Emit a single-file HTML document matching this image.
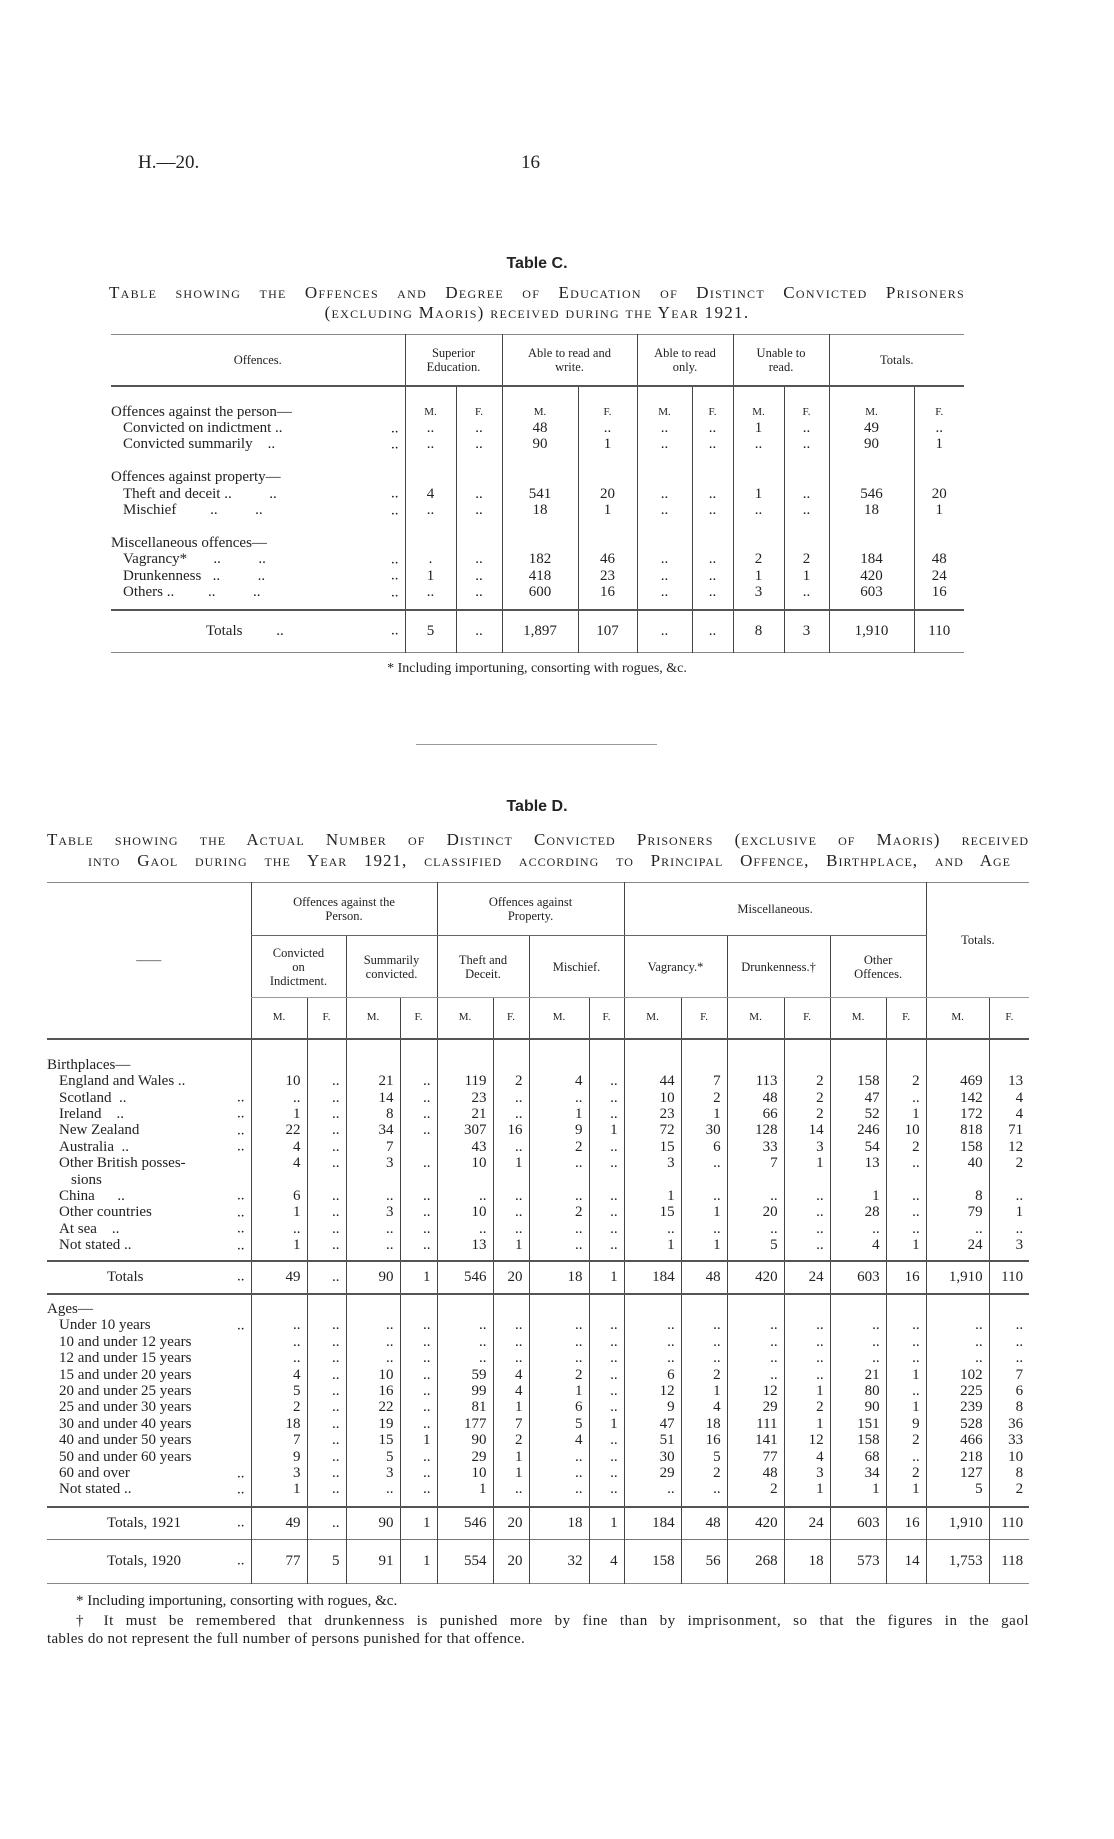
<!DOCTYPE html>
<html><head><meta charset="utf-8"><style>
body{margin:0;background:#fff;}
#pg{position:relative;width:1114px;height:1839px;background:#fff;color:#222;font-family:"Liberation Serif",serif;overflow:hidden}
.a{position:absolute;white-space:nowrap}
table{position:absolute;border-collapse:collapse;table-layout:fixed}
td{padding:0;vertical-align:middle;white-space:nowrap;overflow:visible;line-height:13px}
.c td{border-left:1px solid #444;text-align:center;font-size:15px}
.c td.l{border-left:none;text-align:left;position:relative}
.d td{border-left:1px solid #444;text-align:right;padding-right:6px;font-size:15px}
.d td.l{border-left:none;text-align:left;padding-right:0;position:relative}
.hd td{font-size:12.5px;line-height:14px;text-align:center;padding-right:0}
.mf td{font-size:11px;text-align:center;padding-right:0}
.dt{position:absolute;right:6px;top:50%;transform:translateY(-50%)}
.ind{padding-left:12px}
.sc{font-variant:small-caps}
</style></head><body><div id="pg">

<div class="a" style="left:138px;top:152px;font-size:19px">H.—20.</div>
<div class="a" style="left:521px;top:152px;font-size:19px">16</div>

<div class="a" style="left:0;width:1074px;text-align:center;top:255px;font-size:16px;font-weight:bold;font-family:'Liberation Sans',sans-serif">Table C.</div>
<div class="a sc" style="left:109px;width:856px;top:283px;font-size:17px;text-align:justify;text-align-last:justify;letter-spacing:1.3px">Table showing the Offences and Degree of Education of Distinct Convicted Prisoners</div>
<div class="a sc" style="left:0;width:1074px;top:303px;font-size:17px;text-align:center;letter-spacing:1.3px">(excluding Maoris) received during the Year 1921.</div>

<table class="c" style="left:111px;top:334px;width:853px;border-top:1px solid #888;border-bottom:1px solid #888">
<colgroup><col style="width:294px"><col style="width:51px"><col style="width:46px"><col style="width:76px"><col style="width:59px"><col style="width:55px"><col style="width:41px"><col style="width:51px"><col style="width:45px"><col style="width:85px"><col style="width:50px"></colgroup>
<tr class="hd" style="height:51px;border-bottom:2px solid #555"><td class="l" style="text-align:center">Offences.</td><td colspan="2">Superior<br>Education.</td><td colspan="2">Able to read and<br>write.</td><td colspan="2">Able to read<br>only.</td><td colspan="2">Unable to<br>read.</td><td colspan="2">Totals.</td></tr>
<tr style="height:19px"><td class="l"></td><td></td><td></td><td></td><td></td><td></td><td></td><td></td><td></td><td></td><td></td></tr>
<tr style="height:16px"><td class="l">Offences against the person—</td><td style="font-size:11px">M.</td><td style="font-size:11px">F.</td><td style="font-size:11px">M.</td><td style="font-size:11px">F.</td><td style="font-size:11px">M.</td><td style="font-size:11px">F.</td><td style="font-size:11px">M.</td><td style="font-size:11px">F.</td><td style="font-size:11px">M.</td><td style="font-size:11px">F.</td></tr>
<tr style="height:16px"><td class="l"><span class="ind">Convicted on indictment ..</span><span class="dt">..</span></td><td>..</td><td>..</td><td>48</td><td>..</td><td>..</td><td>..</td><td>1</td><td>..</td><td>49</td><td>..</td></tr>
<tr style="height:16px"><td class="l"><span class="ind">Convicted summarily &nbsp;&nbsp;&nbsp;..</span><span class="dt">..</span></td><td>..</td><td>..</td><td>90</td><td>1</td><td>..</td><td>..</td><td>..</td><td>..</td><td>90</td><td>1</td></tr>
<tr style="height:17px"><td class="l"></td><td></td><td></td><td></td><td></td><td></td><td></td><td></td><td></td><td></td><td></td></tr>
<tr style="height:16px"><td class="l">Offences against property—</td><td></td><td></td><td></td><td></td><td></td><td></td><td></td><td></td><td></td><td></td></tr>
<tr style="height:17px"><td class="l"><span class="ind">Theft and deceit .. &nbsp;&nbsp;&nbsp;&nbsp;&nbsp;&nbsp;&nbsp;&nbsp;&nbsp;..</span><span class="dt">..</span></td><td>4</td><td>..</td><td>541</td><td>20</td><td>..</td><td>..</td><td>1</td><td>..</td><td>546</td><td>20</td></tr>
<tr style="height:16px"><td class="l"><span class="ind">Mischief &nbsp;&nbsp;&nbsp;&nbsp;&nbsp;&nbsp;&nbsp;&nbsp;.. &nbsp;&nbsp;&nbsp;&nbsp;&nbsp;&nbsp;&nbsp;&nbsp;&nbsp;..</span><span class="dt">..</span></td><td>..</td><td>..</td><td>18</td><td>1</td><td>..</td><td>..</td><td>..</td><td>..</td><td>18</td><td>1</td></tr>
<tr style="height:17px"><td class="l"></td><td></td><td></td><td></td><td></td><td></td><td></td><td></td><td></td><td></td><td></td></tr>
<tr style="height:16px"><td class="l">Miscellaneous offences—</td><td></td><td></td><td></td><td></td><td></td><td></td><td></td><td></td><td></td><td></td></tr>
<tr style="height:16px"><td class="l"><span class="ind">Vagrancy* &nbsp;&nbsp;&nbsp;&nbsp;&nbsp;&nbsp;.. &nbsp;&nbsp;&nbsp;&nbsp;&nbsp;&nbsp;&nbsp;&nbsp;&nbsp;..</span><span class="dt">..</span></td><td>.</td><td>..</td><td>182</td><td>46</td><td>..</td><td>..</td><td>2</td><td>2</td><td>184</td><td>48</td></tr>
<tr style="height:17px"><td class="l"><span class="ind">Drunkenness &nbsp;&nbsp;.. &nbsp;&nbsp;&nbsp;&nbsp;&nbsp;&nbsp;&nbsp;&nbsp;&nbsp;..</span><span class="dt">..</span></td><td>1</td><td>..</td><td>418</td><td>23</td><td>..</td><td>..</td><td>1</td><td>1</td><td>420</td><td>24</td></tr>
<tr style="height:16px"><td class="l"><span class="ind">Others .. &nbsp;&nbsp;&nbsp;&nbsp;&nbsp;&nbsp;&nbsp;&nbsp;.. &nbsp;&nbsp;&nbsp;&nbsp;&nbsp;&nbsp;&nbsp;&nbsp;&nbsp;..</span><span class="dt">..</span></td><td>..</td><td>..</td><td>600</td><td>16</td><td>..</td><td>..</td><td>3</td><td>..</td><td>603</td><td>16</td></tr>
<tr style="height:9px"><td class="l"></td><td></td><td></td><td></td><td></td><td></td><td></td><td></td><td></td><td></td><td></td></tr>
<tr style="height:43px;border-top:2px solid #555"><td class="l"><span style="padding-left:95px">Totals &nbsp;&nbsp;&nbsp;&nbsp;&nbsp;&nbsp;&nbsp;&nbsp;..</span><span class="dt">..</span></td><td>5</td><td>..</td><td>1,897</td><td>107</td><td>..</td><td>..</td><td>8</td><td>3</td><td>1,910</td><td>110</td></tr>
</table>
<div class="a" style="left:0;width:1074px;text-align:center;top:661px;font-size:14px">* Including importuning, consorting with rogues, &amp;c.</div>
<div class="a" style="left:416px;top:744px;width:241px;border-top:1px solid #999"></div>

<div class="a" style="left:0;width:1074px;text-align:center;top:798px;font-size:16px;font-weight:bold;font-family:'Liberation Sans',sans-serif">Table D.</div>
<div class="a sc" style="left:47px;width:982px;top:830px;font-size:17px;text-align:justify;text-align-last:justify;letter-spacing:1px">Table showing the Actual Number of Distinct Convicted Prisoners (exclusive of Maoris) received</div>
<div class="a sc" style="left:88px;width:923px;top:851px;font-size:17px;text-align:justify;text-align-last:justify;letter-spacing:1px">into Gaol during the Year 1921, classified according to Principal Offence, Birthplace, and Age</div>

<table class="d" style="left:47px;top:882px;width:982px;border-top:1px solid #888;border-bottom:1px solid #888">
<colgroup><col style="width:204px"><col style="width:56px"><col style="width:39px"><col style="width:54px"><col style="width:37px"><col style="width:56px"><col style="width:36px"><col style="width:60px"><col style="width:35px"><col style="width:57px"><col style="width:46px"><col style="width:57px"><col style="width:46px"><col style="width:56px"><col style="width:40px"><col style="width:63px"><col style="width:40px"></colgroup>
<tr class="hd" style="height:53px"><td class="l" rowspan="3" style="text-align:center">——</td><td colspan="4" style="border-bottom:1px solid #666">Offences against the<br>Person.</td><td colspan="4" style="border-bottom:1px solid #666">Offences against<br>Property.</td><td colspan="6" style="border-bottom:1px solid #666">Miscellaneous.</td><td colspan="2" rowspan="2" style="border-bottom:1px solid #999">Totals.</td></tr>
<tr class="hd" style="height:62px"><td colspan="2" style="border-bottom:1px solid #999">Convicted<br>on<br>Indictment.</td><td colspan="2" style="border-bottom:1px solid #999">Summarily<br>convicted.</td><td colspan="2" style="border-bottom:1px solid #999">Theft and<br>Deceit.</td><td colspan="2" style="border-bottom:1px solid #999">Mischief.</td><td colspan="2" style="border-bottom:1px solid #999">Vagrancy.*</td><td colspan="2" style="border-bottom:1px solid #999">Drunkenness.†</td><td colspan="2" style="border-bottom:1px solid #999">Other<br>Offences.</td></tr>
<tr class="mf" style="height:41px;border-bottom:2px solid #555"><td>M.</td><td>F.</td><td>M.</td><td>F.</td><td>M.</td><td>F.</td><td>M.</td><td>F.</td><td>M.</td><td>F.</td><td>M.</td><td>F.</td><td>M.</td><td>F.</td><td>M.</td><td>F.</td></tr>
<tr style="height:19px"><td class="l"></td><td></td><td></td><td></td><td></td><td></td><td></td><td></td><td></td><td></td><td></td><td></td><td></td><td></td><td></td><td></td><td></td></tr>
<tr style="height:16px"><td class="l">Birthplaces—</td><td></td><td></td><td></td><td></td><td></td><td></td><td></td><td></td><td></td><td></td><td></td><td></td><td></td><td></td><td></td><td></td></tr>
<tr style="height:16.4px"><td class="l"><span class="ind">England and Wales ..</span></td><td>10</td><td>..</td><td>21</td><td>..</td><td>119</td><td>2</td><td>4</td><td>..</td><td>44</td><td>7</td><td>113</td><td>2</td><td>158</td><td>2</td><td>469</td><td>13</td></tr>
<tr style="height:16.4px"><td class="l"><span class="ind">Scotland &nbsp;..</span><span class="dt">..</span></td><td>..</td><td>..</td><td>14</td><td>..</td><td>23</td><td>..</td><td>..</td><td>..</td><td>10</td><td>2</td><td>48</td><td>2</td><td>47</td><td>..</td><td>142</td><td>4</td></tr>
<tr style="height:16.4px"><td class="l"><span class="ind">Ireland &nbsp;&nbsp;&nbsp;..</span><span class="dt">..</span></td><td>1</td><td>..</td><td>8</td><td>..</td><td>21</td><td>..</td><td>1</td><td>..</td><td>23</td><td>1</td><td>66</td><td>2</td><td>52</td><td>1</td><td>172</td><td>4</td></tr>
<tr style="height:16.4px"><td class="l"><span class="ind">New Zealand</span><span class="dt">..</span></td><td>22</td><td>..</td><td>34</td><td>..</td><td>307</td><td>16</td><td>9</td><td>1</td><td>72</td><td>30</td><td>128</td><td>14</td><td>246</td><td>10</td><td>818</td><td>71</td></tr>
<tr style="height:16.4px"><td class="l"><span class="ind">Australia &nbsp;..</span><span class="dt">..</span></td><td>4</td><td>..</td><td>7</td><td></td><td>43</td><td>..</td><td>2</td><td>..</td><td>15</td><td>6</td><td>33</td><td>3</td><td>54</td><td>2</td><td>158</td><td>12</td></tr>
<tr style="height:16.4px"><td class="l"><span class="ind">Other British posses-</span></td><td>4</td><td>..</td><td>3</td><td>..</td><td>10</td><td>1</td><td>..</td><td>..</td><td>3</td><td>..</td><td>7</td><td>1</td><td>13</td><td>..</td><td>40</td><td>2</td></tr>
<tr style="height:16.4px"><td class="l"><span style="padding-left:24px">sions</span></td><td></td><td></td><td></td><td></td><td></td><td></td><td></td><td></td><td></td><td></td><td></td><td></td><td></td><td></td><td></td><td></td></tr>
<tr style="height:16.4px"><td class="l"><span class="ind">China &nbsp;&nbsp;&nbsp;&nbsp;&nbsp;..</span><span class="dt">..</span></td><td>6</td><td>..</td><td>..</td><td>..</td><td>..</td><td>..</td><td>..</td><td>..</td><td>1</td><td>..</td><td>..</td><td>..</td><td>1</td><td>..</td><td>8</td><td>..</td></tr>
<tr style="height:16.4px"><td class="l"><span class="ind">Other countries</span><span class="dt">..</span></td><td>1</td><td>..</td><td>3</td><td>..</td><td>10</td><td>..</td><td>2</td><td>..</td><td>15</td><td>1</td><td>20</td><td>..</td><td>28</td><td>..</td><td>79</td><td>1</td></tr>
<tr style="height:16.4px"><td class="l"><span class="ind">At sea &nbsp;&nbsp;&nbsp;..</span><span class="dt">..</span></td><td>..</td><td>..</td><td>..</td><td>..</td><td>..</td><td>..</td><td>..</td><td>..</td><td>..</td><td>..</td><td>..</td><td>..</td><td>..</td><td>..</td><td>..</td><td>..</td></tr>
<tr style="height:16.4px"><td class="l"><span class="ind">Not stated ..</span><span class="dt">..</span></td><td>1</td><td>..</td><td>..</td><td>..</td><td>13</td><td>1</td><td>..</td><td>..</td><td>1</td><td>1</td><td>5</td><td>..</td><td>4</td><td>1</td><td>24</td><td>3</td></tr>
<tr style="height:7px"><td class="l"></td><td></td><td></td><td></td><td></td><td></td><td></td><td></td><td></td><td></td><td></td><td></td><td></td><td></td><td></td><td></td><td></td></tr>
<tr style="height:33px;border-top:2px solid #555;border-bottom:2px solid #555"><td class="l"><span style="padding-left:60px">Totals</span><span class="dt">..</span></td><td>49</td><td>..</td><td>90</td><td>1</td><td>546</td><td>20</td><td>18</td><td>1</td><td>184</td><td>48</td><td>420</td><td>24</td><td>603</td><td>16</td><td>1,910</td><td>110</td></tr>
<tr style="height:8px"><td class="l"></td><td></td><td></td><td></td><td></td><td></td><td></td><td></td><td></td><td></td><td></td><td></td><td></td><td></td><td></td><td></td><td></td></tr>
<tr style="height:16px"><td class="l">Ages—</td><td></td><td></td><td></td><td></td><td></td><td></td><td></td><td></td><td></td><td></td><td></td><td></td><td></td><td></td><td></td><td></td></tr>
<tr style="height:16.4px"><td class="l"><span class="ind">Under 10 years</span><span class="dt">..</span></td><td>..</td><td>..</td><td>..</td><td>..</td><td>..</td><td>..</td><td>..</td><td>..</td><td>..</td><td>..</td><td>..</td><td>..</td><td>..</td><td>..</td><td>..</td><td>..</td></tr>
<tr style="height:16.4px"><td class="l"><span class="ind">10 and under 12 years</span></td><td>..</td><td>..</td><td>..</td><td>..</td><td>..</td><td>..</td><td>..</td><td>..</td><td>..</td><td>..</td><td>..</td><td>..</td><td>..</td><td>..</td><td>..</td><td>..</td></tr>
<tr style="height:16.4px"><td class="l"><span class="ind">12 and under 15 years</span></td><td>..</td><td>..</td><td>..</td><td>..</td><td>..</td><td>..</td><td>..</td><td>..</td><td>..</td><td>..</td><td>..</td><td>..</td><td>..</td><td>..</td><td>..</td><td>..</td></tr>
<tr style="height:16.4px"><td class="l"><span class="ind">15 and under 20 years</span></td><td>4</td><td>..</td><td>10</td><td>..</td><td>59</td><td>4</td><td>2</td><td>..</td><td>6</td><td>2</td><td>..</td><td>..</td><td>21</td><td>1</td><td>102</td><td>7</td></tr>
<tr style="height:16.4px"><td class="l"><span class="ind">20 and under 25 years</span></td><td>5</td><td>..</td><td>16</td><td>..</td><td>99</td><td>4</td><td>1</td><td>..</td><td>12</td><td>1</td><td>12</td><td>1</td><td>80</td><td>..</td><td>225</td><td>6</td></tr>
<tr style="height:16.4px"><td class="l"><span class="ind">25 and under 30 years</span></td><td>2</td><td>..</td><td>22</td><td>..</td><td>81</td><td>1</td><td>6</td><td>..</td><td>9</td><td>4</td><td>29</td><td>2</td><td>90</td><td>1</td><td>239</td><td>8</td></tr>
<tr style="height:16.4px"><td class="l"><span class="ind">30 and under 40 years</span></td><td>18</td><td>..</td><td>19</td><td>..</td><td>177</td><td>7</td><td>5</td><td>1</td><td>47</td><td>18</td><td>111</td><td>1</td><td>151</td><td>9</td><td>528</td><td>36</td></tr>
<tr style="height:16.4px"><td class="l"><span class="ind">40 and under 50 years</span></td><td>7</td><td>..</td><td>15</td><td>1</td><td>90</td><td>2</td><td>4</td><td>..</td><td>51</td><td>16</td><td>141</td><td>12</td><td>158</td><td>2</td><td>466</td><td>33</td></tr>
<tr style="height:16.4px"><td class="l"><span class="ind">50 and under 60 years</span></td><td>9</td><td>..</td><td>5</td><td>..</td><td>29</td><td>1</td><td>..</td><td>..</td><td>30</td><td>5</td><td>77</td><td>4</td><td>68</td><td>..</td><td>218</td><td>10</td></tr>
<tr style="height:16.4px"><td class="l"><span class="ind">60 and over</span><span class="dt">..</span></td><td>3</td><td>..</td><td>3</td><td>..</td><td>10</td><td>1</td><td>..</td><td>..</td><td>29</td><td>2</td><td>48</td><td>3</td><td>34</td><td>2</td><td>127</td><td>8</td></tr>
<tr style="height:16.4px"><td class="l"><span class="ind">Not stated ..</span><span class="dt">..</span></td><td>1</td><td>..</td><td>..</td><td>..</td><td>1</td><td>..</td><td>..</td><td>..</td><td>..</td><td>..</td><td>2</td><td>1</td><td>1</td><td>1</td><td>5</td><td>2</td></tr>
<tr style="height:9px"><td class="l"></td><td></td><td></td><td></td><td></td><td></td><td></td><td></td><td></td><td></td><td></td><td></td><td></td><td></td><td></td><td></td><td></td></tr>
<tr style="height:32px;border-top:2px solid #555;border-bottom:1px solid #777"><td class="l"><span style="padding-left:60px">Totals, 1921</span><span class="dt">..</span></td><td>49</td><td>..</td><td>90</td><td>1</td><td>546</td><td>20</td><td>18</td><td>1</td><td>184</td><td>48</td><td>420</td><td>24</td><td>603</td><td>16</td><td>1,910</td><td>110</td></tr>
<tr style="height:44px"><td class="l"><span style="padding-left:60px">Totals, 1920</span><span class="dt">..</span></td><td>77</td><td>5</td><td>91</td><td>1</td><td>554</td><td>20</td><td>32</td><td>4</td><td>158</td><td>56</td><td>268</td><td>18</td><td>573</td><td>14</td><td>1,753</td><td>118</td></tr>
</table>

<div class="a" style="left:76px;top:1593px;font-size:15px">* Including importuning, consorting with rogues, &amp;c.</div>
<div class="a" style="left:76px;width:953px;top:1613px;font-size:15px;letter-spacing:0.5px;text-align:justify;text-align-last:justify">† It must be remembered that drunkenness is punished more by fine than by imprisonment, so that the figures in the gaol</div>
<div class="a" style="left:47px;top:1631px;font-size:15px;letter-spacing:0.3px">tables do not represent the full number of persons punished for that offence.</div>

</div></body></html>
